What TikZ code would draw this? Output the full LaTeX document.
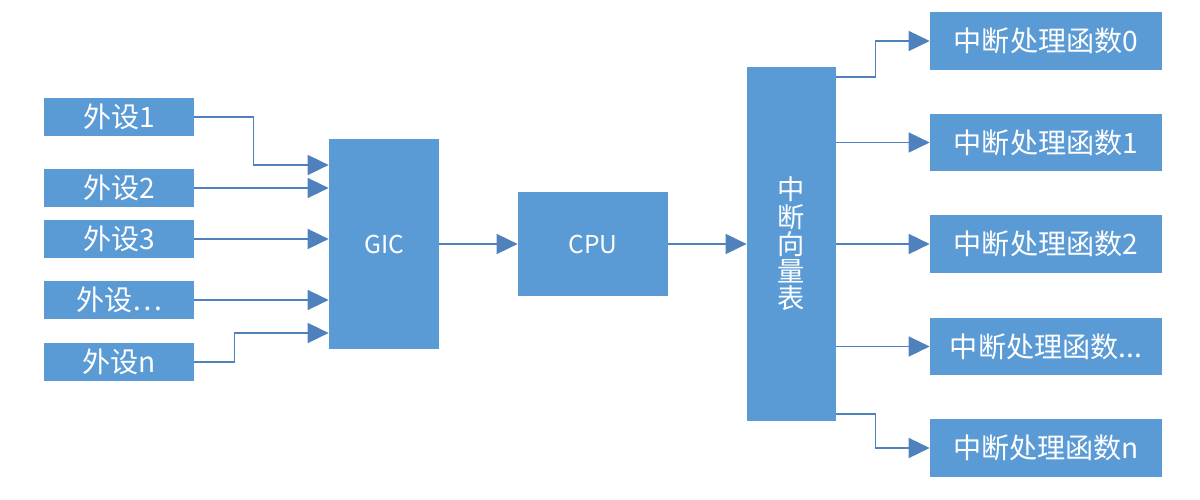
\documentclass[tikz,border=0pt]{standalone}
\usepackage{fontspec}
\setmainfont{Noto Sans CJK SC}
\usetikzlibrary{arrows.meta}
\definecolor{boxblue}{HTML}{5B9BD5}
\definecolor{lineblue}{HTML}{4F81BD}

\begin{document}
\begin{tikzpicture}[x=0.02cm, y=-0.02cm, >={Triangle[length=0.42cm, width=0.4cm]},
  box/.style={fill=boxblue, text=white, inner sep=0pt, font=\fontsize{16}{17}\selectfont},
  link/.style={->, draw=lineblue, line width=0.9pt}]

\useasboundingbox (0, 0) rectangle (1200, 500);

% Peripherals
\node[box, minimum width=3cm, minimum height=0.76cm] (p1) at (119, 117) {外设1};
\node[box, minimum width=3cm, minimum height=0.76cm] (p2) at (119, 188) {外设2};
\node[box, minimum width=3cm, minimum height=0.76cm] (p3) at (119, 239) {外设3};
\node[box, minimum width=3cm, minimum height=0.76cm] (pdots) at (119, 300) {外设…};
\node[box, minimum width=3cm, minimum height=0.76cm] (pn) at (119, 362) {外设n};

% GIC, CPU and vector table
\node[box, minimum width=2.2cm, minimum height=4.2cm, font=\fontsize{14}{16}\selectfont] (gic) at (384, 244) {GIC};
\node[box, minimum width=3cm, minimum height=2.08cm, font=\fontsize{14}{16}\selectfont] (cpu) at (593, 244) {CPU};
\node[box, minimum width=1.78cm, minimum height=7.08cm, align=center, font=\fontsize{15.5}{15.5}\selectfont] (ivt) at (791.5, 244) {中\\断\\向\\量\\表};

% Handlers
\node[box, minimum width=4.64cm, minimum height=1.16cm] (h0) at (1046, 41) {中断处理函数0};
\node[box, minimum width=4.64cm, minimum height=1.16cm] (h1) at (1046, 142.5) {中断处理函数1};
\node[box, minimum width=4.64cm, minimum height=1.16cm] (h2) at (1046, 244) {中断处理函数2};
\node[box, minimum width=4.64cm, minimum height=1.16cm] (hdots) at (1046, 346.5) {中断处理函数...};
\node[box, minimum width=4.64cm, minimum height=1.16cm] (hn) at (1046, 448) {中断处理函数n};

% Peripherals to GIC
\draw[link] (p1.east) -- ++(59, 0) |- (gic.west |- 0, 165);
\draw[link] (p2.east) -- (gic.west |- p2.east);
\draw[link] (p3.east) -- (gic.west |- p3.east);
\draw[link] (pdots.east) -- (gic.west |- pdots.east);
\draw[link] (pn.east) -- ++(40, 0) |- (gic.west |- 0, 333);

% GIC to CPU to table
\draw[link] (gic.east) -- (cpu.west);
\draw[link] (cpu.east) -- (ivt.west);

% Table to handlers
\draw[link] (ivt.east |- 0, 77) -- ++(39, 0) |- (h0.west);
\draw[link] (ivt.east |- h1.west) -- (h1.west);
\draw[link] (ivt.east |- h2.west) -- (h2.west);
\draw[link] (ivt.east |- hdots.west) -- (hdots.west);
\draw[link] (ivt.east |- 0, 414) -- ++(39, 0) |- (hn.west);

\end{tikzpicture}
\end{document}
